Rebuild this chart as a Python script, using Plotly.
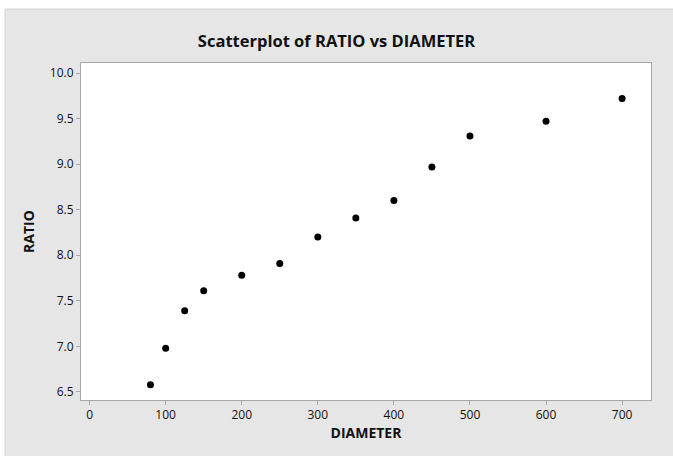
import plotly.graph_objects as go

diameter = [80, 100, 125, 150, 200, 250, 300, 350, 400, 450, 500, 600, 700]
ratio = [6.58, 6.98, 7.39, 7.61, 7.78, 7.91, 8.20, 8.41, 8.60, 8.97, 9.31, 9.47, 9.72]
x_ticks = [0, 100, 200, 300, 400, 500, 600, 700]
y_ticks = [6.5, 7.0, 7.5, 8.0, 8.5, 9.0, 9.5, 10.0]

W, H = 673, 456
ml, mr, mt, mb = 81, 22, 63, 56
pw, ph = W - ml - mr, H - mt - mb

def px(xpix):
    return (xpix - ml) / pw

def py(ypix):
    return (H - mb - ypix) / ph

fig = go.Figure()
fig.add_trace(go.Scatter(
    x=diameter, y=ratio, mode="markers",
    marker=dict(color="black", size=7),
    hoverinfo="x+y", showlegend=False,
))

font_family = "Open Sans, Noto Sans, sans-serif"
fig.update_layout(
    width=W, height=H,
    margin=dict(l=ml, r=mr, t=mt, b=mb),
    paper_bgcolor="#e6e6e6",
    plot_bgcolor="white",
    font=dict(family=font_family, color="#111111", size=12),
    title=dict(text="<b>Scatterplot of RATIO vs DIAMETER</b>", x=0.5, xanchor="center",
               y=1 - 41 / H, yanchor="middle", xref="container",
               font=dict(size=16.5, family=font_family, color="#111111")),
    shapes=[
        dict(type="rect", xref="paper", yref="paper",
             x0=px(-2), x1=px(680), y0=py(9), y1=py(-2),
             fillcolor="white", line=dict(width=0), layer="below"),
        dict(type="rect", xref="paper", yref="paper",
             x0=px(-2), x1=px(5), y0=py(460), y1=py(-2),
             fillcolor="white", line=dict(width=0), layer="below"),
        dict(type="line", xref="paper", yref="paper",
             x0=px(5), x1=px(680), y0=py(9), y1=py(9),
             line=dict(color="#d4d4d4", width=1), layer="below"),
        dict(type="line", xref="paper", yref="paper",
             x0=px(5), x1=px(5), y0=py(9), y1=py(460),
             line=dict(color="#d4d4d4", width=1), layer="below"),
    ],
)
fig.update_xaxes(
    range=[-11.3, 738], tickvals=x_ticks, ticktext=[str(v) for v in x_ticks],
    showgrid=False, zeroline=False, showline=True, linecolor="#a8a8a8", linewidth=1, mirror=True,
    ticks="outside", ticklen=4, tickcolor="#a8a8a8",
    title=dict(text="<b>DIAMETER</b>", font=dict(size=14), standoff=5),
    tickfont=dict(size=12),
)
fig.update_yaxes(
    range=[6.412, 10.11], tickvals=y_ticks, ticktext=[f"{v:.1f}" for v in y_ticks],
    showgrid=False, zeroline=False, showline=True, linecolor="#a8a8a8", linewidth=1, mirror=True,
    ticks="outside", ticklen=4, tickcolor="#a8a8a8",
    title=dict(text="<b>RATIO</b>", font=dict(size=14), standoff=11),
    tickfont=dict(size=12),
)

fig.write_html("out.html",
               config={"displayModeBar": False},
               post_script="document.body.style.margin='0';document.body.style.overflow='hidden';")
